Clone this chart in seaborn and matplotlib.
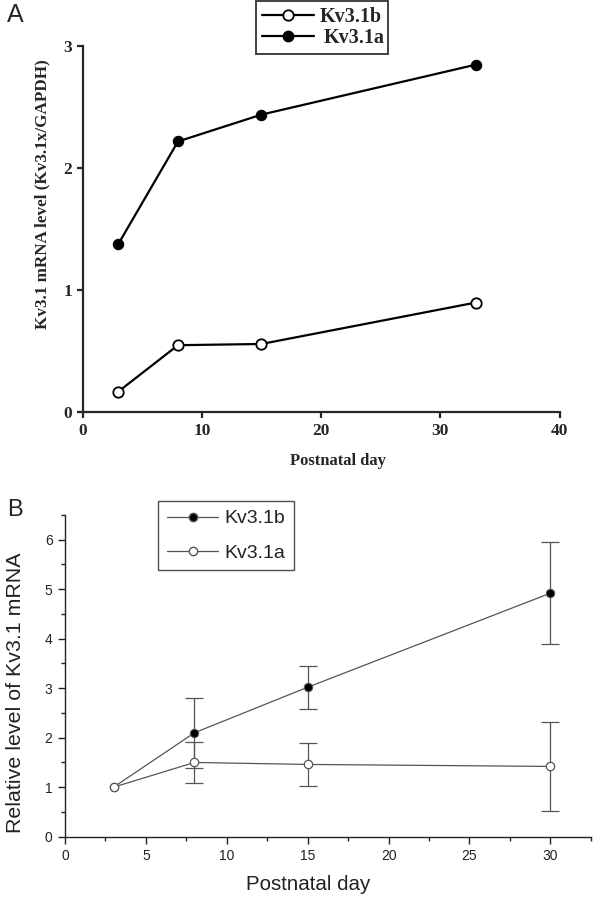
import matplotlib
matplotlib.use("Agg")
import matplotlib.pyplot as plt
import seaborn as sns
import pandas as pd
from matplotlib.lines import Line2D
from matplotlib.ticker import MultipleLocator

# ---------------- data ----------------
days_a = [3, 8, 15, 33]
kv31b_a = [0.17, 0.55, 0.56, 0.90]
kv31a_a = [1.38, 2.22, 2.44, 2.85]

days_b = [3, 8, 15, 30]
kv31b_b = [1.0, 2.1, 3.02, 4.92]
kv31b_err = [0.0, 0.71, 0.43, 1.03]
kv31a_b = [1.0, 1.5, 1.46, 1.42]
kv31a_err = [0.0, 0.42, 0.43, 0.90]

labels_a = ["Kv3.1b", "Kv3.1a"]
labels_b = ["Kv3.1b", "Kv3.1a"]

sns.set_theme(style="ticks")
plt.rcParams['font.family'] = ['Liberation Sans', 'DejaVu Sans']

W, H = 605, 899
fig = plt.figure(figsize=(W / 100, H / 100), dpi=100)

# ---------------- Panel A ----------------
serif = ['Liberation Serif', 'DejaVu Serif']
axA = fig.add_axes([82.6 / W, 1 - 412.3 / H, 476.9 / W, 366 / H])
dfA = pd.DataFrame({"day": days_a * 2,
                    "val": kv31b_a + kv31a_a,
                    "iso": [labels_a[0]] * 4 + [labels_a[1]] * 4})
sns.lineplot(data=dfA[dfA.iso == labels_a[1]], x="day", y="val", ax=axA,
             color="black", lw=1.6, marker="o", markersize=7.5,
             markerfacecolor="black", markeredgecolor="black", legend=False)
sns.lineplot(data=dfA[dfA.iso == labels_a[0]], x="day", y="val", ax=axA,
             color="black", lw=1.6, marker="o", markersize=7.5,
             markerfacecolor="white", markeredgecolor="black",
             markeredgewidth=1.3, legend=False)
axA.set_xlim(0, 40)
axA.set_ylim(0, 3)
axA.set_xticks([0, 10, 20, 30, 40])
axA.set_yticks([0, 1, 2, 3])
axA.spines['top'].set_visible(False)
axA.spines['right'].set_visible(False)
for s in ['left', 'bottom']:
    axA.spines[s].set_linewidth(1.6)
axA.tick_params(width=1.6, length=4.5, direction='out', labelsize=12.5, pad=3)
for lab in axA.get_xticklabels() + axA.get_yticklabels():
    lab.set_family(serif)
    lab.set_fontweight('bold')
axA.set_xlabel("Postnatal day", fontsize=12, fontweight='bold', family=serif,
               va='center', ha='center')
axA.xaxis.set_label_coords(0.5355, -0.1322)
axA.set_ylabel("Kv3.1 mRNA level (Kv3.1x/GAPDH)", fontsize=12.3, fontweight='bold',
               family=serif, va='center', ha='center', rotation=90,
               rotation_mode='default')
axA.yaxis.set_label_coords(-0.0851, 0.5964)

hA = [Line2D([0], [0], color='black', lw=1.6, marker='o', markersize=7.5,
             markerfacecolor='white', markeredgecolor='black', markeredgewidth=1.3),
      Line2D([0], [0], color='black', lw=1.6, marker='o', markersize=7.5,
             markerfacecolor='black', markeredgecolor='black')]
legA = fig.legend(hA, labels_a, loc='upper left', bbox_to_anchor=(256 / W, 1 - 1 / H),
                  frameon=True, fancybox=False, handlelength=2.6, handletextpad=0.28,
                  borderpad=0.3, labelspacing=0.05, borderaxespad=0,
                  prop={'family': serif, 'weight': 'bold', 'size': 14.5})
legA.get_frame().set_edgecolor('black')
legA.get_frame().set_linewidth(1.3)
# second entry's text sits a little further right, as in the original
legA.get_texts()[1].set_x(4)

fig.text(7 / W, 1 - 3 / H, "A", fontsize=18, va='top', ha='left')

# ---------------- Panel B ----------------
gray = '#555555'
dark = '#222222'
axB = fig.add_axes([65 / W, 1 - 836.7 / H, 525.8 / W, 321.7 / H])
dfB = pd.DataFrame({"day": days_b * 2,
                    "val": kv31b_b + kv31a_b,
                    "iso": [labels_b[0]] * 4 + [labels_b[1]] * 4})
axB.errorbar(days_b[1:], kv31b_b[1:], yerr=kv31b_err[1:], fmt='none',
             ecolor=gray, elinewidth=0.9, capsize=6.8, capthick=0.9, zorder=1)
axB.errorbar(days_b[1:], kv31a_b[1:], yerr=kv31a_err[1:], fmt='none',
             ecolor=gray, elinewidth=0.9, capsize=6.8, capthick=0.9, zorder=1)
sns.lineplot(data=dfB[dfB.iso == labels_b[0]], x="day", y="val", ax=axB,
             color=gray, lw=0.9, marker="o", markersize=6,
             markerfacecolor="black", markeredgecolor=gray, legend=False, zorder=3)
sns.lineplot(data=dfB[dfB.iso == labels_b[1]], x="day", y="val", ax=axB,
             color=gray, lw=0.9, marker="o", markersize=6,
             markerfacecolor="white", markeredgecolor=gray, markeredgewidth=0.9,
             legend=False, zorder=3)
axB.set_xlim(0, 32.5)
axB.set_ylim(0, 6.5)
axB.xaxis.set_major_locator(MultipleLocator(5))
axB.xaxis.set_minor_locator(MultipleLocator(2.5))
axB.yaxis.set_major_locator(MultipleLocator(1))
axB.yaxis.set_minor_locator(MultipleLocator(0.5))
axB.spines['top'].set_visible(False)
axB.spines['right'].set_visible(False)
for s in ['left', 'bottom']:
    axB.spines[s].set_linewidth(1.0)
    axB.spines[s].set_color(dark)
axB.tick_params(which='major', width=1.0, length=5, direction='out',
                labelsize=10, colors=dark, pad=4)
axB.tick_params(which='minor', width=1.0, length=3, direction='out', colors=dark)
axB.set_xlabel("Postnatal day", fontsize=14.8, color=dark, va='center', ha='center')
axB.xaxis.set_label_coords(0.462, -0.150)
axB.set_ylabel("Relative level of Kv3.1 mRNA", fontsize=15.4, color=dark,
               va='center', ha='center', rotation=90, rotation_mode='default')
axB.yaxis.set_label_coords(-0.0945, 0.4467)

hB = [Line2D([0], [0], color=gray, lw=0.9, marker='o', markersize=6,
             markerfacecolor='black', markeredgecolor=gray),
      Line2D([0], [0], color=gray, lw=0.9, marker='o', markersize=6,
             markerfacecolor='white', markeredgecolor=gray)]
legB = fig.legend(hB, labels_b, loc='upper left', bbox_to_anchor=(158 / W, 1 - 501 / H),
                  frameon=True, fancybox=False, handlelength=2.65, handletextpad=0.3,
                  borderpad=0.45, labelspacing=0.85, borderaxespad=0,
                  prop={'size': 14})
legB.get_frame().set_edgecolor(dark)
legB.get_frame().set_linewidth(1.0)
for t in legB.get_texts():
    t.set_color(dark)

fig.text(7 / W, 1 - 499 / H, "B", fontsize=17, va='top', ha='left')

fig.savefig("out.png", dpi=100)
